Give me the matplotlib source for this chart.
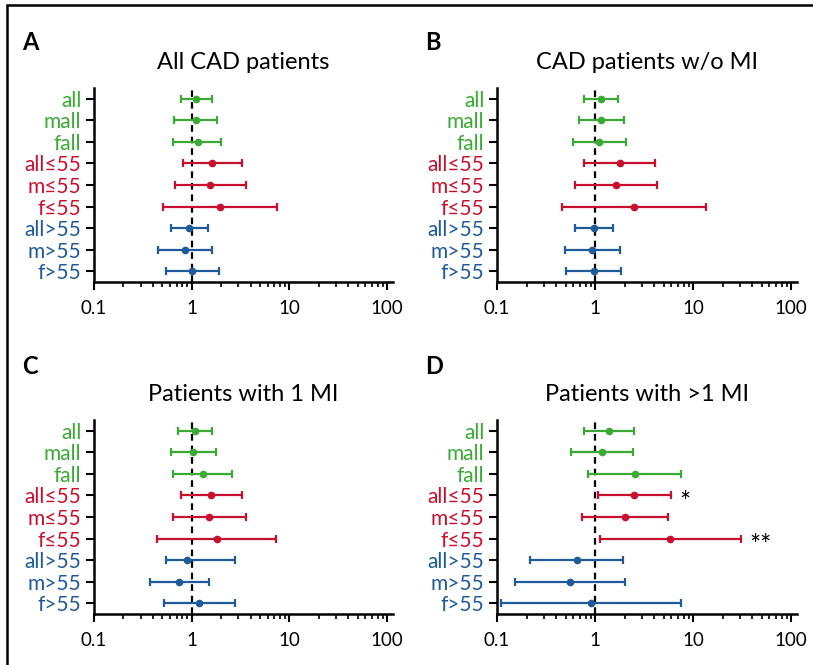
import matplotlib
matplotlib.use("Agg")
import matplotlib.pyplot as plt
import numpy as np
from matplotlib.patches import Rectangle

plt.rcParams['font.family'] = ['Lato', 'DejaVu Sans']

labels = ["all", "mall", "fall", "all≤55", "m≤55", "f≤55", "all>55", "m>55", "f>55"]
groups = ["g", "g", "g", "r", "r", "r", "b", "b", "b"]
colors = {"g": "#3aaa35", "r": "#c8102e", "b": "#1f5a99"}

titles = ["All CAD patients", "CAD patients w/o MI", "Patients with 1 MI", "Patients with >1 MI"]
letters = ["A", "B", "C", "D"]

# Panel A
a_or = [1.12, 1.10, 1.15, 1.62, 1.54, 1.95, 0.94, 0.85, 1.00]
a_lo = [0.77, 0.66, 0.64, 0.81, 0.68, 0.51, 0.61, 0.455, 0.54]
a_hi = [1.60, 1.80, 2.01, 3.31, 3.58, 7.45, 1.46, 1.62, 1.89]
# Panel B
b_or = [1.15, 1.16, 1.11, 1.78, 1.64, 2.49, 0.98, 0.93, 0.97]
b_lo = [0.78, 0.69, 0.59, 0.78, 0.63, 0.46, 0.63, 0.49, 0.50]
b_hi = [1.72, 1.97, 2.05, 4.06, 4.29, 13.6, 1.54, 1.79, 1.86]
# Panel C
c_or = [1.09, 1.03, 1.30, 1.58, 1.52, 1.80, 0.89, 0.75, 1.20]
c_lo = [0.72, 0.61, 0.65, 0.77, 0.64, 0.44, 0.54, 0.377, 0.52]
c_hi = [1.63, 1.76, 2.57, 3.26, 3.58, 7.27, 2.78, 1.52, 2.78]
# Panel D
d_or = [1.40, 1.18, 2.55, 2.49, 2.03, 5.83, 0.65, 0.55, 0.91]
d_lo = [0.77, 0.57, 0.85, 1.07, 0.74, 1.13, 0.219, 0.151, 0.110]
d_hi = [2.49, 2.45, 7.62, 5.93, 5.56, 30.7, 1.92, 2.03, 7.5]
d_sig = ["", "", "", "*", "", "**", "", "", ""]

panels = [(a_or, a_lo, a_hi, None), (b_or, b_lo, b_hi, None),
          (c_or, c_lo, c_hi, None), (d_or, d_lo, d_hi, d_sig)]

W, H = 813, 665
fig = plt.figure(figsize=(W / 100, H / 100), dpi=100)

# outer border
fig.patches.append(Rectangle((7 / W, -0.1), 1.2, 1 - 5 / H + 0.1, transform=fig.transFigure,
                             fill=False, edgecolor='black', linewidth=1.8))

boxes = [(94, 88, 393, 282), (497, 88, 797, 282), (94, 420, 393, 614), (497, 420, 797, 614)]
letter_pos = [(22, 42), (425, 42), (22, 366), (425, 366)]

ypos = np.arange(1, len(labels) + 1)
for i, ((orv, lo, hi, sig), (l, t, r, b)) in enumerate(zip(panels, boxes)):
    ax = fig.add_axes([l / W, 1 - b / H, (r - l) / W, (b - t) / H])
    ax.set_xscale('log')
    ax.set_xlim(0.1, 115)
    ax.set_ylim(len(labels) + 0.5, 0.5)
    ax.axvline(1, color='black', linestyle=(0, (3, 2.2)), linewidth=1.6, zorder=1)
    for j in range(len(labels)):
        c = colors[groups[j]]
        ax.errorbar([orv[j]], [ypos[j]], xerr=[[orv[j] - lo[j]], [hi[j] - orv[j]]],
                    fmt='o', color=c, markersize=4.5, elinewidth=1.6, capsize=3.2,
                    capthick=1.6, zorder=3)
        if sig is not None and sig[j]:
            ax.annotate(sig[j], xy=(hi[j], ypos[j]), xytext=(6, -6), textcoords='offset points',
                        ha='left', va='center', fontsize=19, color='black')
    ax.set_yticks(ypos)
    ax.set_yticklabels(labels, fontsize=15)
    for tl, g in zip(ax.get_yticklabels(), groups):
        tl.set_color(colors[g])
    ax.set_xticks([0.1, 1, 10, 100])
    ax.set_xticklabels(["0.1", "1", "10", "100"], fontsize=13.5)
    ax.spines['top'].set_visible(False)
    ax.spines['right'].set_visible(False)
    ax.spines['left'].set_linewidth(1.8)
    ax.spines['bottom'].set_linewidth(1.8)
    ax.tick_params(axis='y', length=6, width=1.5, pad=3)
    ax.tick_params(axis='x', which='major', length=6, width=1.5, pad=7)
    ax.tick_params(axis='x', which='minor', length=3.5, width=1.2)
    ax.set_title(titles[i], fontsize=17, pad=14)
    lx, ly = letter_pos[i]
    fig.text(lx / W, 1 - ly / H, letters[i], fontsize=17, fontweight='bold',
             ha='left', va='center')

fig.savefig("out.png", dpi=100)
